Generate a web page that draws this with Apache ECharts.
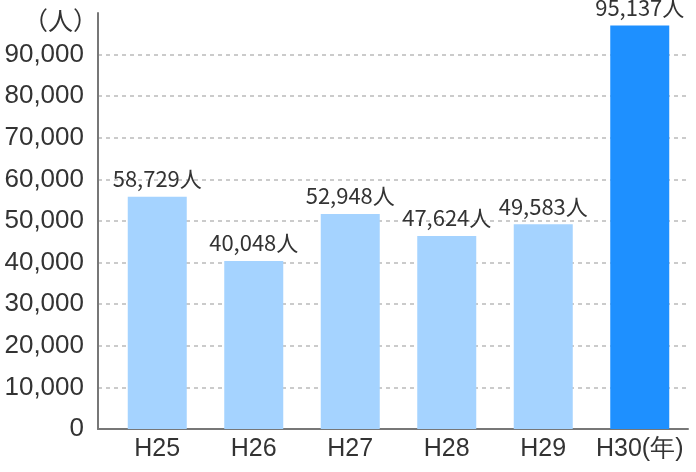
<!DOCTYPE html>
<html>
<head>
<meta charset="utf-8">
<script src="https://cdn.jsdelivr.net/npm/echarts@6/dist/echarts.min.js"></script>
<style>html,body{margin:0;padding:0;background:#fff}#c{width:696px;height:472px}</style>
</head>
<body>
<div id="c"></div>
<script>
var categories = ['H25', 'H26', 'H27', 'H28', 'H29', 'H30(年)'];
var barValues = [55800, 40400, 51700, 46400, 49200, 97000];
var labelValues = ['58,729', '40,048', '52,948', '47,624', '49,583', '95,137'];
var yTicks = [0, 10000, 20000, 30000, 40000, 50000, 60000, 70000, 80000, 90000, 100000];

var lightBlue = '#a5d3ff';
var darkBlue = '#1e90ff';

var chart = echarts.init(document.getElementById('c'), null, {renderer: 'canvas'});
var gridTop = 13, gridBottom = 43;
chart.setOption({
  animation: false,
  grid: [
    {left: 98, right: 8, top: gridTop, bottom: gridBottom},
    {left: 109, right: 8, top: gridTop, bottom: gridBottom}
  ],
  xAxis: [
    {
      type: 'category', gridIndex: 0, data: categories,
      axisLine: {lineStyle: {color: '#777', width: 2}},
      axisTick: {show: false}, axisLabel: {show: false}
    },
    {
      type: 'category', gridIndex: 1, data: categories,
      axisLine: {show: false}, axisTick: {show: false},
      axisLabel: {color: '#333', fontSize: 25, fontFamily: 'Liberation Sans', margin: 8, interval: 0}
    }
  ],
  yAxis: [
    {
      type: 'value', gridIndex: 0, min: yTicks[0], max: yTicks[yTicks.length - 1], interval: 10000,
      name: '（人）', nameLocation: 'end', nameGap: -20,
      nameTextStyle: {color: '#333', fontSize: 25, fontFamily: 'Noto Sans CJK JP', align: 'right', padding: [0, 0, 0, 0]},
      axisLine: {show: true, lineStyle: {color: '#777', width: 2}},
      axisTick: {show: false},
      axisLabel: {
        color: '#333', fontSize: 26, fontFamily: 'Liberation Sans', margin: 14, showMaxLabel: false,
        formatter: function (v) { return v.toLocaleString('en-US'); }
      },
      splitLine: {show: true, showMaxLine: false, lineStyle: {color: '#bbb', type: [4, 4], width: 1.5}}
    },
    {
      type: 'value', gridIndex: 1, min: yTicks[0], max: yTicks[yTicks.length - 1], interval: 10000,
      show: false, splitLine: {show: false}
    }
  ],
  series: [{
    type: 'bar', xAxisIndex: 1, yAxisIndex: 1, barWidth: 59,
    data: barValues.map(function (v, i) {
      return {value: v, itemStyle: {color: i === barValues.length - 1 ? darkBlue : lightBlue}};
    }),
    label: {
      show: true, position: 'top', distance: 7, color: '#333', fontSize: 22,
      fontFamily: 'Noto Sans CJK JP',
      formatter: function (p) { return labelValues[p.dataIndex] + '人'; }
    }
  }]
});
</script>
</body>
</html>
